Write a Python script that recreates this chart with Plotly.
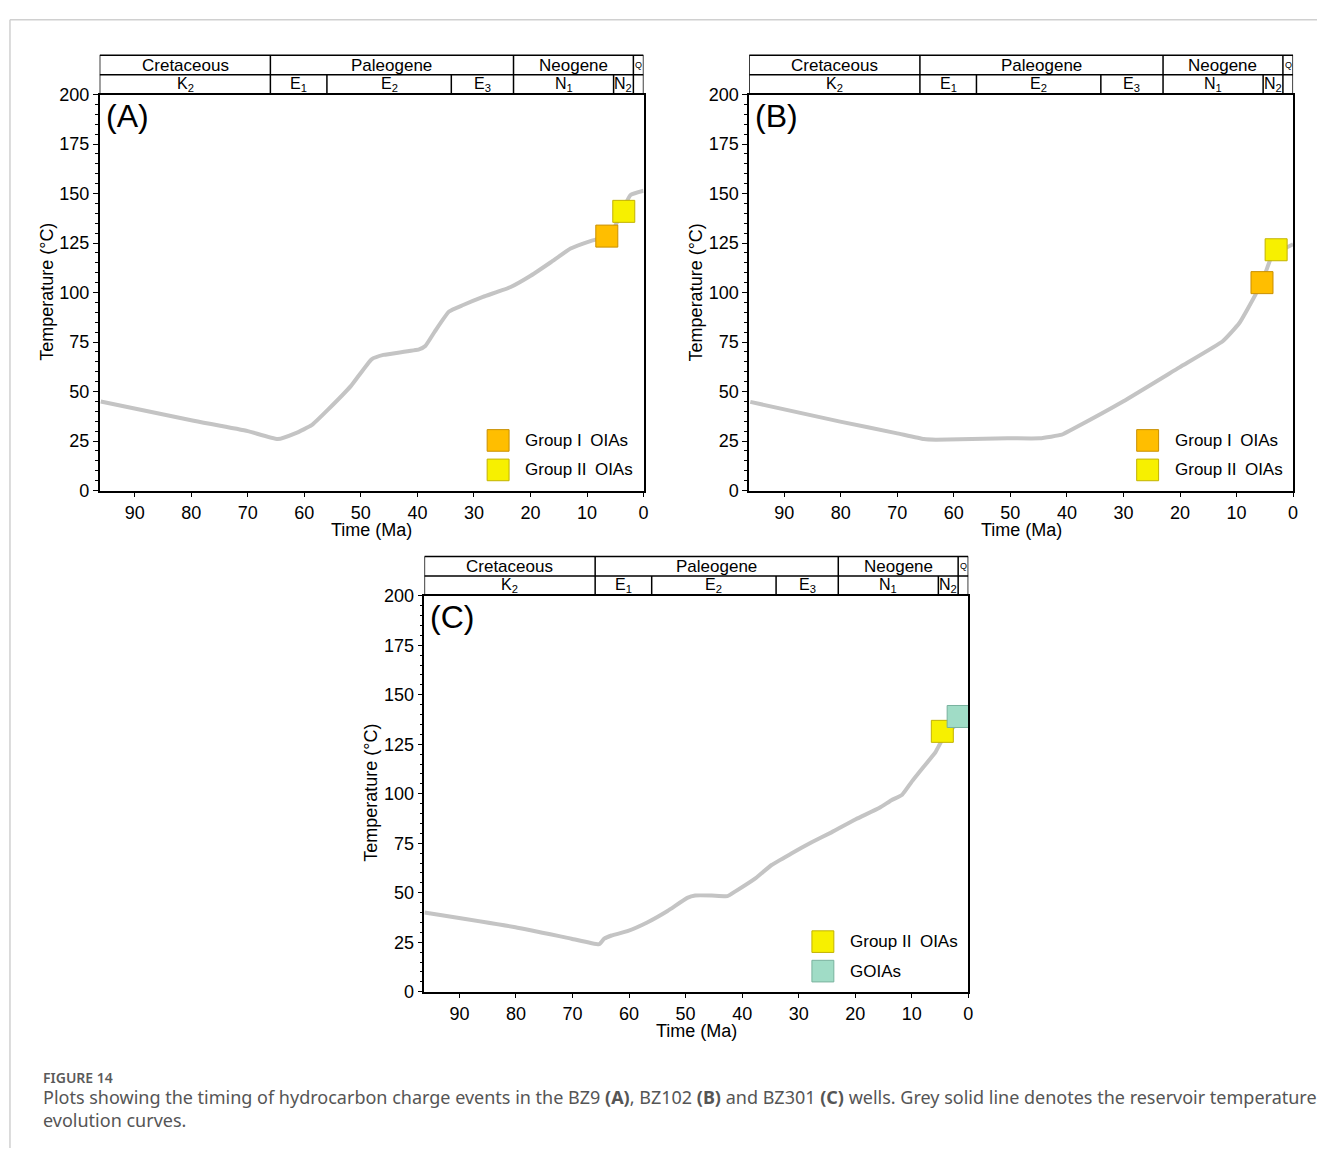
import plotly.graph_objects as go

W, H = 1322, 1158

# ---- reservoir temperature evolution curves (time in Ma, temperature in °C) ----
time_a = [96, 80, 70, 64.7, 61.5, 58.7, 55.9, 51.7, 48.1, 46, 39.7, 38.6, 36.9, 34.4, 31.9,
          28.4, 23.5, 19.9, 16.4, 12.9, 9.4, 7.3, 5.5, 3.7, 2.3, 0]
temp_a = [45, 35.5, 30, 26, 29, 33, 40.6, 53, 66.3, 68.5, 71.3, 73, 80.4, 90.4, 93.7,
          97.8, 102.8, 108.6, 115.3, 122.2, 126, 127.7, 131, 141.8, 149.3, 151.4]

time_b = [96, 80.1, 70.2, 65.3, 63.2, 50.5, 44.8, 40.9, 39.2, 30, 20.1, 12.4, 9.5, 6.7, 4.9,
          3.5, 1.8, 0]
temp_b = [44.8, 34.8, 29, 26, 25.7, 26.4, 26.4, 28.2, 30.7, 45.1, 62.2, 75.5, 84.6, 98.7, 110,
          120, 121.9, 124.4]

time_c = [96.2, 80.1, 70.2, 65.3, 64.4, 63.1, 60.3, 56.8, 53.2, 49.7, 48.3, 45.4, 42.6, 41.2,
          37.6, 34.8, 31.3, 27.7, 24.2, 19.9, 15.7, 13.6, 11.7, 10.0, 7.9, 5.8, 4.7, 2.5, 0]
temp_c = [40, 32.6, 26.8, 24, 26.8, 28.4, 30.6, 35, 40.8, 47.4, 48.6, 48.6, 48.3, 50.7,
          57.4, 64, 69.8, 75.5, 80.5, 87.1, 92.9, 96.7, 99.5, 106.1, 113.6, 121, 126.8, 134, 139]

# ---- oil inclusion assemblage (OIA) charge events ----
events_a_time = [6.5, 3.5]
events_a_temp = [128.5, 141]
events_a_kind = ["Group I  OIAs", "Group II  OIAs"]

events_b_time = [5.5, 3.0]
events_b_temp = [105, 121.6]
events_b_kind = ["Group I  OIAs", "Group II  OIAs"]

events_c_time = [4.6, 1.8]
events_c_temp = [131.5, 139]
events_c_kind = ["Group II  OIAs", "GOIAs"]

# ---- stratigraphic header ----
periods = ["Cretaceous", "Paleogene", "Neogene", "Q"]
period_bounds = [96.2, 66, 23, 1.8, 0]
epochs = ["K<sub>2</sub>", "E<sub>1</sub>", "E<sub>2</sub>", "E<sub>3</sub>",
          "N<sub>1</sub>", "N<sub>2</sub>", ""]
epoch_bounds = [96.2, 66, 56, 34, 23, 5.3, 1.8, 0]

x_ticks = [90, 80, 70, 60, 50, 40, 30, 20, 10, 0]
y_ticks = [0, 25, 50, 75, 100, 125, 150, 175, 200]

STYLE = {
    "Group I  OIAs": dict(fill="#FFBE00", edge="#C98F00"),
    "Group II  OIAs": dict(fill="#F7F000", edge="#C2B200"),
    "GOIAs": dict(fill="#A0DCC6", edge="#78B29E"),
}

FONT = "Liberation Sans, Arial, sans-serif"

# panel boxes in pixels: (left, top, right, bottom)
panels = [
    dict(name="(A)", box=(100, 86, 646, 489), t=time_a, T=temp_a,
         et=events_a_time, eT=events_a_temp, ek=events_a_kind),
    dict(name="(B)", box=(752, 86, 1298, 489), t=time_b, T=temp_b,
         et=events_b_time, eT=events_b_temp, ek=events_b_kind),
    dict(name="(C)", box=(426, 596, 972, 999), t=time_c, T=temp_c,
         et=events_c_time, eT=events_c_temp, ek=events_c_kind),
]

fig = go.Figure()
shapes = []
annotations = []


def px(x):
    return x / W


def py(y):
    return 1 - y / H


def note(text, x, y, size, xanchor="center", yanchor="middle", **kw):
    font = dict(family=kw.pop("family", FONT), size=size, color=kw.pop("color", "black"))
    if "weight" in kw:
        font["weight"] = kw.pop("weight")
    d = dict(text=text, x=x, y=y, xanchor=xanchor, yanchor=yanchor, showarrow=False,
             font=font)
    d.setdefault("xref", "paper")
    d.setdefault("yref", "paper")
    d.update(kw)
    return d


for i, p in enumerate(panels):
    n = "" if i == 0 else str(i + 1)
    xa, ya = "x" + n, "y" + n
    left, top, right, bottom = p["box"]
    plot_h = bottom - top
    plot_w = right - left

    fig.add_trace(go.Scatter(
        x=p["t"], y=p["T"], mode="lines", xaxis=xa, yaxis=ya,
        line=dict(color="#C4C4C4", width=4, shape="spline", smoothing=0.4),
        showlegend=False, hoverinfo="skip"))

    for t, T, k in zip(p["et"], p["eT"], p["ek"]):
        st = STYLE[k]
        fig.add_trace(go.Scatter(
            x=[t], y=[T], mode="markers", xaxis=xa, yaxis=ya, cliponaxis=False,
            marker=dict(symbol="square", size=22, color=st["fill"],
                        line=dict(color=st["edge"], width=1)),
            name=k, showlegend=False))

    axis_common = dict(showgrid=False, zeroline=False, showline=True, linecolor="black",
                       linewidth=1.5, ticks="outside", tickcolor="black", ticklen=5,
                       tickwidth=1.2, mirror=True,
                       tickfont=dict(family=FONT, size=18, color="black"))
    fig.update_layout(**{
        ("xaxis" + n): dict(domain=[px(left), px(right)], range=[96.2, 0],
                            tickvals=x_ticks, anchor=ya, **axis_common),
        ("yaxis" + n): dict(domain=[py(bottom), py(top)], range=[0, 200],
                            tickvals=y_ticks, anchor=xa,
                            minor=dict(dtick=5, ticks="outside", ticklen=3,
                                       tickcolor="black", tickwidth=1),
                            **axis_common),
    })

    # stratigraphic header table above the plot
    row = 20 / plot_h
    yd = ya + " domain"
    line = dict(color="black", width=1.5)
    for yy in (1 + row, 1 + 2 * row):
        shapes.append(dict(type="line", xref=xa, yref=yd, x0=96.2, x1=0,
                           y0=yy, y1=yy, line=line))
    for b in period_bounds:
        shapes.append(dict(type="line", xref=xa, yref=yd, x0=b, x1=b,
                           y0=1 + row, y1=1 + 2 * row, line=line))
    for b in epoch_bounds:
        shapes.append(dict(type="line", xref=xa, yref=yd, x0=b, x1=b,
                           y0=1, y1=1 + row, line=line))
    for name, a, b in zip(periods, period_bounds[:-1], period_bounds[1:]):
        annotations.append(note(name, (a + b) / 2, 1 + 1.5 * row, 9 if name == "Q" else 17,
                                xref=xa, yref=yd))
    for name, a, b in zip(epochs, epoch_bounds[:-1], epoch_bounds[1:]):
        if name:
            annotations.append(note(name, (a + b) / 2, 1 + 0.5 * row, 16, xref=xa, yref=yd))

    # panel label
    annotations.append(note(p["name"], px(left + 4), py(top + 22), 32, xanchor="left"))

    # axis titles
    annotations.append(note("Temperature (°C)", px(left - 53), py(top + 201), 18,
                            textangle=-90))
    annotations.append(note("Time (Ma)", px(left + 273), py(bottom + 40), 18))

    # key for the event symbols
    kinds = list(dict.fromkeys(p["ek"]))
    hx = 11 / plot_w
    hy = 11 / plot_h
    for j, k in enumerate(kinds):
        cy = (51 - 30 * j) / plot_h
        cx = 400 / plot_w
        st = STYLE[k]
        shapes.append(dict(type="rect", xref=xa + " domain", yref=yd,
                           x0=cx - hx, x1=cx + hx, y0=cy - hy, y1=cy + hy,
                           fillcolor=st["fill"], line=dict(color=st["edge"], width=1)))
        annotations.append(note(k.replace("  ", "\u2002"), cx + 25 / plot_w, cy, 17,
                                xanchor="left", xref=xa + " domain", yref=yd))

# page frame
shapes.append(dict(type="line", xref="paper", yref="paper", x0=px(10), x1=1,
                   y0=py(10), y1=py(10), line=dict(color="#D0D0D0", width=1.5)))
shapes.append(dict(type="line", xref="paper", yref="paper", x0=px(10), x1=px(10),
                   y0=py(10), y1=0, line=dict(color="#D0D0D0", width=1.5)))

# caption
CAP = "Noto Sans, Open Sans, sans-serif"
annotations.append(note("FIGURE 14", px(41), py(1086), 14, xanchor="left",
                        family=CAP, color="#5A5A5A", weight=600))
annotations.append(note(
    "Plots showing the timing of hydrocarbon charge events in the BZ9 <b>(A)</b>, "
    "BZ102 <b>(B)</b> and BZ301 <b>(C)</b> wells. Grey solid line denotes the reservoir "
    "temperature",
    px(41), py(1106), 18, xanchor="left", family=CAP, color="#555555"))
annotations.append(note("evolution curves.", px(41), py(1130), 18, xanchor="left",
                        family=CAP, color="#555555"))

fig.update_layout(width=W, height=H, autosize=False, margin=dict(l=0, r=0, t=0, b=0),
                  paper_bgcolor="white", plot_bgcolor="white",
                  shapes=shapes, annotations=annotations, showlegend=False)

fig.write_html("out.html", config={"displayModeBar": False, "responsive": False},
               post_script="document.body.style.margin='0';"
                           "document.documentElement.style.overflow='hidden';")
